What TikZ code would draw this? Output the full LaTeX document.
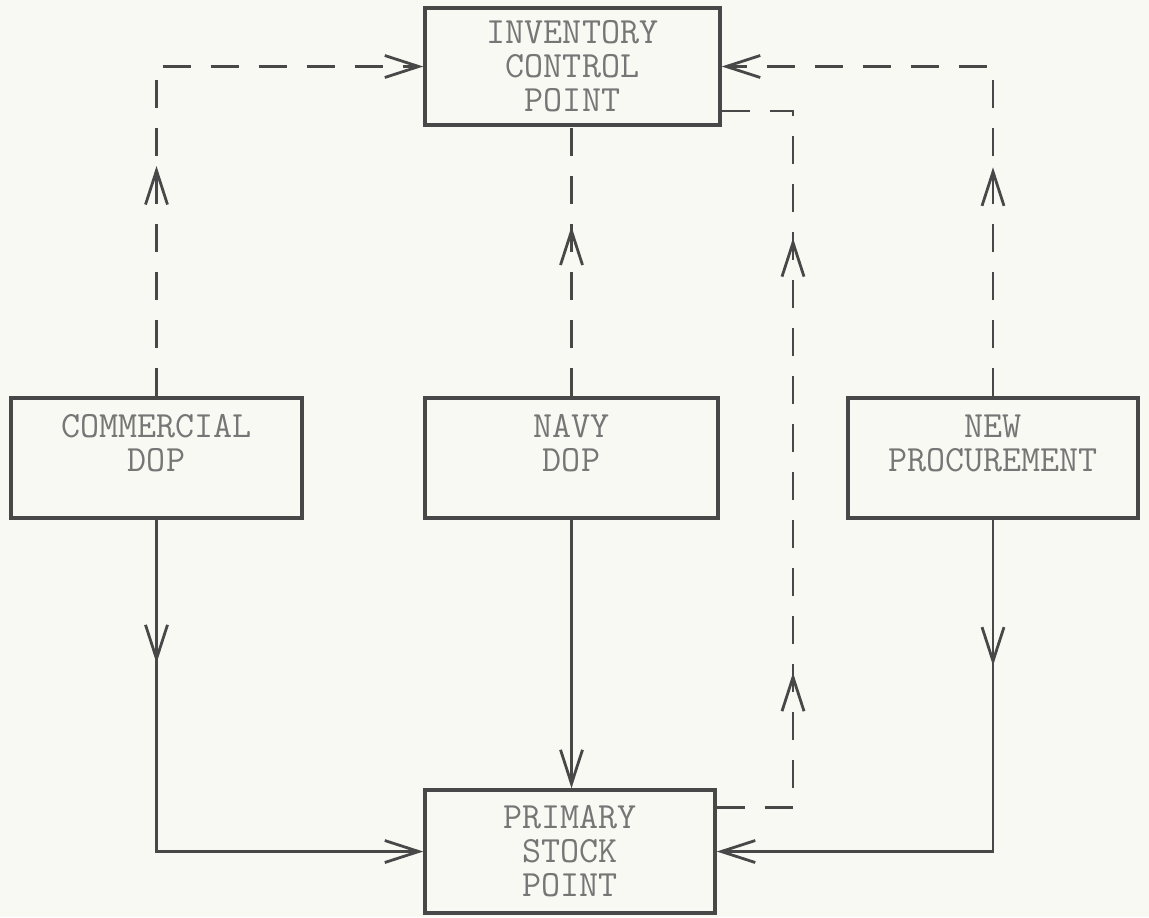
\documentclass[tikz,border=0pt]{standalone}
\usetikzlibrary{arrows.meta, calc, decorations.markings}
\definecolor{paper}{RGB}{249,249,244}
\definecolor{ink}{RGB}{72,72,72}

\tikzset{
  box/.style={draw=ink, line width=1.7pt, rectangle, align=center, inner sep=0pt,
    font=\ttfamily\fontsize{18.5}{17}\selectfont, text=ink!75},
  flow/.style={draw=ink, line width=1.4pt},
  info/.style={draw=ink, line width=1.4pt, dash pattern=on 14pt off 10pt},
  midarrow/.style={postaction={decorate, decoration={markings,
    mark=at position #1 with {\arrow[solid, line width=1.4pt]{>}}}}}
}

\begin{document}
\begin{tikzpicture}[x=0.5pt, y=-0.5pt, >={Straight Barb[length=17pt, width=11pt]}]

        % fondo
        \fill[paper] (0,0) rectangle (1149,917);
        \useasboundingbox (0,0) rectangle (1149,917);

        % --- CAJAS ---
        \node[box, minimum width=147.5pt, minimum height=58.5pt] (icp) at (572.5,66.5) {INVENTORY\\CONTROL\\POINT};
        \node[box, minimum width=145.5pt, minimum height=60pt, text depth=15pt] (com) at (156.5,458) {COMMERCIAL\\DOP};
        \node[box, minimum width=146.5pt, minimum height=60pt, text depth=15pt] (navy) at (571.5,458) {NAVY\\DOP};
        \node[box, minimum width=145pt, minimum height=60pt, text depth=15pt] (newp) at (993,458) {NEW\\PROCUREMENT};
        \node[box, minimum width=145pt, minimum height=61.5pt] (psp) at (570,851.5) {PRIMARY\\STOCK\\POINT};

        % puntos de retorno
        \coordinate (pspout) at ($(psp.north east)!0.15!(psp.south east)$);
        \coordinate (icpin) at ($(icp.north east)!0.87!(icp.south east)$);
        \coordinate (bend) at (793,0);

        % --- INFORMACION (punteado) ---
        \draw[info, ->, midarrow=0.386] (com.north) |- (icp.west);
        \draw[info, ->, midarrow=0.381] (newp.north) |- (icp.east);
        \draw[info, midarrow=0.63] (navy.north) -- (icp.south -| navy.north);
        \draw[info, midarrow=0.25, midarrow=0.765] (pspout) -- (pspout -| bend) -- (icpin -| bend) -- (icpin);

        % --- MATERIAL (continuo) ---
        \draw[flow, ->, midarrow=0.24] (com.south) |- (psp.west);
        \draw[flow, ->] (navy.south) -- (psp.north -| navy.south);
        \draw[flow, ->, midarrow=0.24] (newp.south) |- (psp.east);

\end{tikzpicture}
\end{document}
